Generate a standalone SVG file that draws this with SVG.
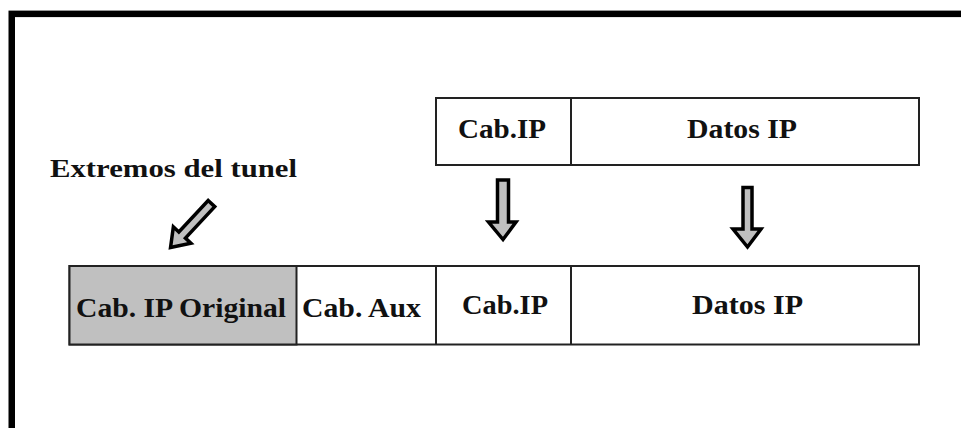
<svg xmlns="http://www.w3.org/2000/svg" width="961" height="428" viewBox="0 0 961 428">
  <defs>
    <style>
      .cell { fill: #ffffff; stroke: #222222; stroke-width: 2; }
      .cell.orig { fill: #c0c0c0; }
      .sep { stroke: #222222; stroke-width: 2; }
      .lbl { font-family: "Liberation Serif", "Times New Roman", serif; font-weight: bold; font-size: 27px; fill: #111111; }
      .note { font-family: "Liberation Serif", "Times New Roman", serif; font-weight: bold; font-size: 25px; fill: #111111; }
      .blk { fill: #c0c0c0; stroke: #000000; stroke-width: 3.5; stroke-linejoin: miter; }
    </style>
  </defs>

  <rect x="0" y="0" width="961" height="428" fill="#ffffff"/>
  <!-- window frame, open to the right and bottom -->
  <rect x="11.75" y="13.85" width="1000" height="500" fill="none" stroke="#000000" stroke-width="6.5"/>

  <!-- original IP packet -->
  <g id="packet-ip">
    <rect class="cell" x="436" y="98" width="483" height="67"/>
    <line class="sep" x1="571" y1="98" x2="571" y2="165"/>
    <text class="lbl" x="458" y="138" textLength="88" lengthAdjust="spacingAndGlyphs">Cab.IP</text>
    <text class="lbl" x="687" y="138" textLength="110" lengthAdjust="spacingAndGlyphs">Datos IP</text>
  </g>

  <!-- encapsulated packet -->
  <g id="packet-tunnel">
    <rect class="cell" x="69.5" y="266" width="849.5" height="78.5"/>
    <rect class="cell orig" x="69.5" y="266" width="227" height="78.5"/>
    <line class="sep" x1="436" y1="266" x2="436" y2="344.5"/>
    <line class="sep" x1="571" y1="266" x2="571" y2="344.5"/>
    <text class="lbl" x="76" y="317" textLength="210" lengthAdjust="spacingAndGlyphs">Cab. IP Original</text>
    <text class="lbl" x="302" y="317" textLength="119" lengthAdjust="spacingAndGlyphs">Cab. Aux</text>
    <text class="lbl" x="462" y="313.5" textLength="86" lengthAdjust="spacingAndGlyphs">Cab.IP</text>
    <text class="lbl" x="692" y="313.5" textLength="111" lengthAdjust="spacingAndGlyphs">Datos IP</text>
  </g>

  <g id="label-extremos">
    <text class="note" x="50" y="177" textLength="247" lengthAdjust="spacingAndGlyphs">Extremos del tunel</text>
  </g>

  <!-- block arrows -->
  <g id="connectors">
    <path class="blk" d="M497.5,180 H508.5 V222 H516 L503,239.5 L488.5,222 H497.5 Z"/>
    <path class="blk" d="M743,187.5 H752 V229 H761 L747.5,247 L733,229 H743 Z"/>
    <path class="blk" transform="translate(191,225.5) rotate(43)" d="M-4.5,-30 H4.5 V13 H12 L0,30 L-12,13 H-4.5 Z"/>
  </g>
</svg>
